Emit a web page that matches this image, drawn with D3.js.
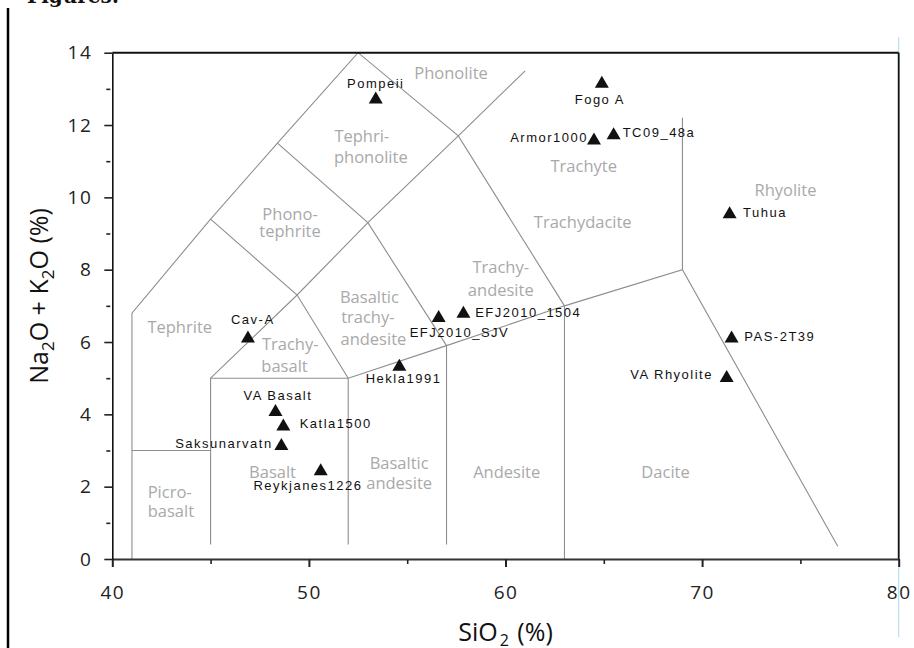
<!DOCTYPE html>
<html><head><meta charset="utf-8">
<script src="https://cdn.jsdelivr.net/npm/d3@7"></script>
<style>
html,body{margin:0;padding:0;background:#fff;}
svg{display:block;}
</style></head><body>
<svg id="chart" width="914" height="648"></svg>
<script>
// Total alkali vs. silica (TAS) classification diagram with tephra samples

// ---- axis ticks ----
const xTicksMajor = [40, 50, 60, 70, 80];
const xTicksMinor = [45, 55, 65, 75];
const yTicksMajor = [0, 2, 4, 6, 8, 10, 12, 14];
const yTicksMinor = [1, 3, 5, 7, 9, 11, 13];

// ---- samples: SiO2 (wt%) and Na2O + K2O (wt%) ----
const sampleNames = ["Pompeii", "Fogo A", "Armor1000", "TC09_48a", "Tuhua", "PAS-2T39",
  "VA Rhyolite", "EFJ2010_1504", "EFJ2010_SJV", "Hekla1991", "Cav-A", "VA Basalt",
  "Katla1500", "Saksunarvatn", "Reykjanes1226"];
const silica = [53.4, 64.9, 64.5, 65.5, 71.4, 71.5, 71.25, 57.86, 56.6, 54.6, 46.9, 48.3, 48.7, 48.6, 50.6];
const totalAlkali = [12.76, 13.2, 11.63, 11.77, 9.59, 6.15, 5.06, 6.84, 6.72, 5.37, 6.15, 4.12, 3.72, 3.18, 2.48];

// ---- TAS field boundaries (SiO2, Na2O+K2O) ----
const fieldBoundaries = [
  [[41, 0], [41, 6.8], [45, 9.4], [48.4, 11.5], [52.5, 14], [57.6, 11.7], [63, 7]],
  [[41, 3], [45, 3]],
  [[45, 0.4], [45, 5], [52, 5], [57, 5.9], [63, 7], [69, 8], [76.9, 0.35]],
  [[45, 5], [49.4, 7.3], [53, 9.3], [57.6, 11.7], [61, 13.5]],
  [[45, 9.4], [49.4, 7.3], [52, 5]],
  [[48.4, 11.5], [53, 9.3], [57, 5.9]],
  [[52, 0.4], [52, 5]],
  [[57, 0.4], [57, 5.9]],
  [[63, 0], [63, 7]],
  [[69, 8], [69, 12.2]]
];

// ---- rock field names, one entry per text line ----
const fieldNames = ["Phonolite", "Tephri-", "phonolite", "Phono-", "tephrite",
  "Basaltic", "trachy-", "andesite", "Trachy-", "andesite", "Tephrite",
  "Trachy-", "basalt", "Basalt", "Basaltic", "andesite", "Picro-", "basalt",
  "Andesite", "Dacite", "Trachyte", "Trachydacite", "Rhyolite"];
// where each field name sits, in diagram units [SiO2, alkali, anchor]
const fieldNameSpots = [
  [57.23, 13.27, "middle"], [52.69, 11.54, "middle"], [53.15, 10.94, "middle"],
  [49.04, 9.375, "middle"], [49.04, 8.91, "middle"],
  [53.08, 7.07, "middle"], [53.0, 6.52, "middle"], [53.28, 5.92, "middle"],
  [59.76, 7.90, "middle"], [59.76, 7.27, "middle"], [43.43, 6.24, "middle"],
  [49.05, 5.78, "middle"], [48.76, 5.18, "middle"], [48.15, 2.23, "middle"],
  [54.59, 2.48, "middle"], [54.59, 1.93, "middle"], [41.80, 1.68, "start"],
  [41.80, 1.15, "start"], [60.06, 2.23, "middle"], [68.14, 2.23, "middle"],
  [63.98, 10.71, "middle"], [63.93, 9.15, "middle"], [74.24, 10.04, "middle"]
];

// sample label offsets from the marker, in px [dx, dy, anchor]
const sampleLabelOffsets = [
  [0, -9.8, "middle"], [-2, 22.6, "middle"], [-7.5, 3.4, "end"], [9, 3.4, "start"],
  [13.4, 4.4, "start"], [12.7, 4, "start"], [-15.2, 3, "end"], [11.7, 5, "start"],
  [-29, 20.7, "start"], [-33.6, 18.3, "start"], [-17, -12.7, "start"],
  [-32, -10, "start"], [16.3, 4, "start"], [-10.2, 4.3, "end"], [-67.3, 20.7, "start"]
];

const svg = d3.select("#chart");
const plotLeft = 112.3, plotRight = 898.7, plotTop = 52.7, plotBottom = 559;

const x = d3.scaleLinear().domain([40, 80]).range([plotLeft, plotRight]);
const y = d3.scaleLinear().domain([0, 14]).range([plotBottom, plotTop]);

// page furniture
svg.append("text").attr("x", 27).attr("y", 3)
  .attr("font-family", "'DejaVu Serif', serif").attr("font-weight", "bold")
  .attr("font-size", 20).attr("fill", "#111").text("Figures:");
svg.append("line").attr("x1", 8).attr("x2", 8).attr("y1", 8).attr("y2", 648)
  .attr("stroke", "#000").attr("stroke-width", 2.5);
svg.append("line").attr("x1", plotRight).attr("x2", plotRight).attr("y1", 37).attr("y2", 637)
  .attr("stroke", "#b5e2ee").attr("stroke-width", 1.2);

// field boundaries
const line = d3.line().x(d => x(d[0])).y(d => y(d[1]));
svg.append("g").selectAll("path").data(fieldBoundaries).join("path")
  .attr("d", line).attr("fill", "none")
  .attr("stroke", "#8e8e8e").attr("stroke-width", 1.1);

// field names
svg.append("g").selectAll("text").data(fieldNames).join("text")
  .attr("x", (d, i) => x(fieldNameSpots[i][0]))
  .attr("y", (d, i) => y(fieldNameSpots[i][1]))
  .attr("text-anchor", (d, i) => fieldNameSpots[i][2])
  .attr("font-family", "'Open Sans', sans-serif").attr("font-size", 16.5)
  .attr("fill", "#a9a9a9").text(d => d);

// frame: top and right
svg.append("line").attr("x1", plotLeft).attr("x2", plotRight).attr("y1", plotTop).attr("y2", plotTop)
  .attr("stroke", "#111").attr("stroke-width", 2);
svg.append("line").attr("x1", plotRight).attr("x2", plotRight).attr("y1", plotTop).attr("y2", plotBottom)
  .attr("stroke", "#111").attr("stroke-width", 1.8);

const tickFont = "'Open Sans', sans-serif";

// x axis
const gx = svg.append("g").attr("transform", `translate(0,${plotBottom})`)
  .call(d3.axisBottom(x).tickValues(xTicksMajor).tickSize(8).tickSizeOuter(0).tickPadding(19));
gx.select(".domain").attr("stroke", "#333").attr("stroke-width", 2.2);
gx.selectAll(".tick line").attr("stroke", "#222").attr("stroke-width", 2);
gx.selectAll(".tick text").attr("font-family", tickFont).attr("font-size", 19)
  .attr("letter-spacing", 1.5).attr("fill", "#222").attr("dy", "0.71em");
const gxm = svg.append("g").attr("transform", `translate(0,${plotBottom + 1})`)
  .call(d3.axisBottom(x).tickValues(xTicksMinor).tickSize(4).tickFormat(""));
gxm.select(".domain").remove();
gxm.selectAll(".tick line").attr("stroke", "#222").attr("stroke-width", 1.6);

// y axis
const gy = svg.append("g").attr("transform", `translate(${plotLeft},0)`)
  .call(d3.axisLeft(y).tickValues(yTicksMajor).tickSize(8).tickSizeOuter(0).tickPadding(12));
gy.select(".domain").attr("stroke", "#111").attr("stroke-width", 1.6);
gy.selectAll(".tick line").attr("stroke", "#222").attr("stroke-width", 1.6);
gy.selectAll(".tick text").attr("font-family", tickFont).attr("font-size", 19)
  .attr("letter-spacing", 1.5).attr("fill", "#222");
const gym = svg.append("g").attr("transform", `translate(${plotLeft - 2},0)`)
  .call(d3.axisLeft(y).tickValues(yTicksMinor).tickSize(4).tickFormat(""));
gym.select(".domain").remove();
gym.selectAll(".tick line").attr("stroke", "#222").attr("stroke-width", 1.6);

// axis titles
const xt = svg.append("text").attr("x", 505.5).attr("y", 640.5).attr("text-anchor", "middle")
  .attr("font-family", tickFont).attr("font-size", 25).attr("fill", "#111");
xt.append("tspan").text("SiO");
xt.append("tspan").attr("font-size", 16).attr("dy", 5).attr("dx", 2).text("2");
xt.append("tspan").attr("dy", -5).attr("dx", 2).text("\u00a0(%)");

const yt = svg.append("text").attr("transform", "translate(47.5,296) rotate(-90)")
  .attr("text-anchor", "middle").attr("font-family", tickFont).attr("font-size", 25).attr("fill", "#111");
yt.append("tspan").text("Na");
yt.append("tspan").attr("font-size", 17).attr("dy", 6).text("2");
yt.append("tspan").attr("dy", -6).text("O + K");
yt.append("tspan").attr("font-size", 17).attr("dy", 6).text("2");
yt.append("tspan").attr("dy", -6).text("O (%)");

// samples
const samples = sampleNames.map((name, i) => ({ name, si: silica[i], alk: totalAlkali[i], off: sampleLabelOffsets[i] }));
const gs = svg.append("g");
gs.selectAll("path").data(samples).join("path")
  .attr("d", "M0,-6L7,6L-7,6Z")
  .attr("transform", d => `translate(${x(d.si)},${y(d.alk)})`)
  .attr("fill", "#111");
gs.selectAll("text").data(samples).join("text")
  .attr("x", d => x(d.si) + d.off[0] + (d.off[2] === "end" ? 1.5 : 0))
  .attr("y", d => y(d.alk) + d.off[1])
  .attr("text-anchor", d => d.off[2])
  .attr("font-family", "'Liberation Sans', Arial, sans-serif").attr("font-size", 13)
  .attr("letter-spacing", 1.5).attr("fill", "#111").text(d => d.name);
</script>
</body></html>
